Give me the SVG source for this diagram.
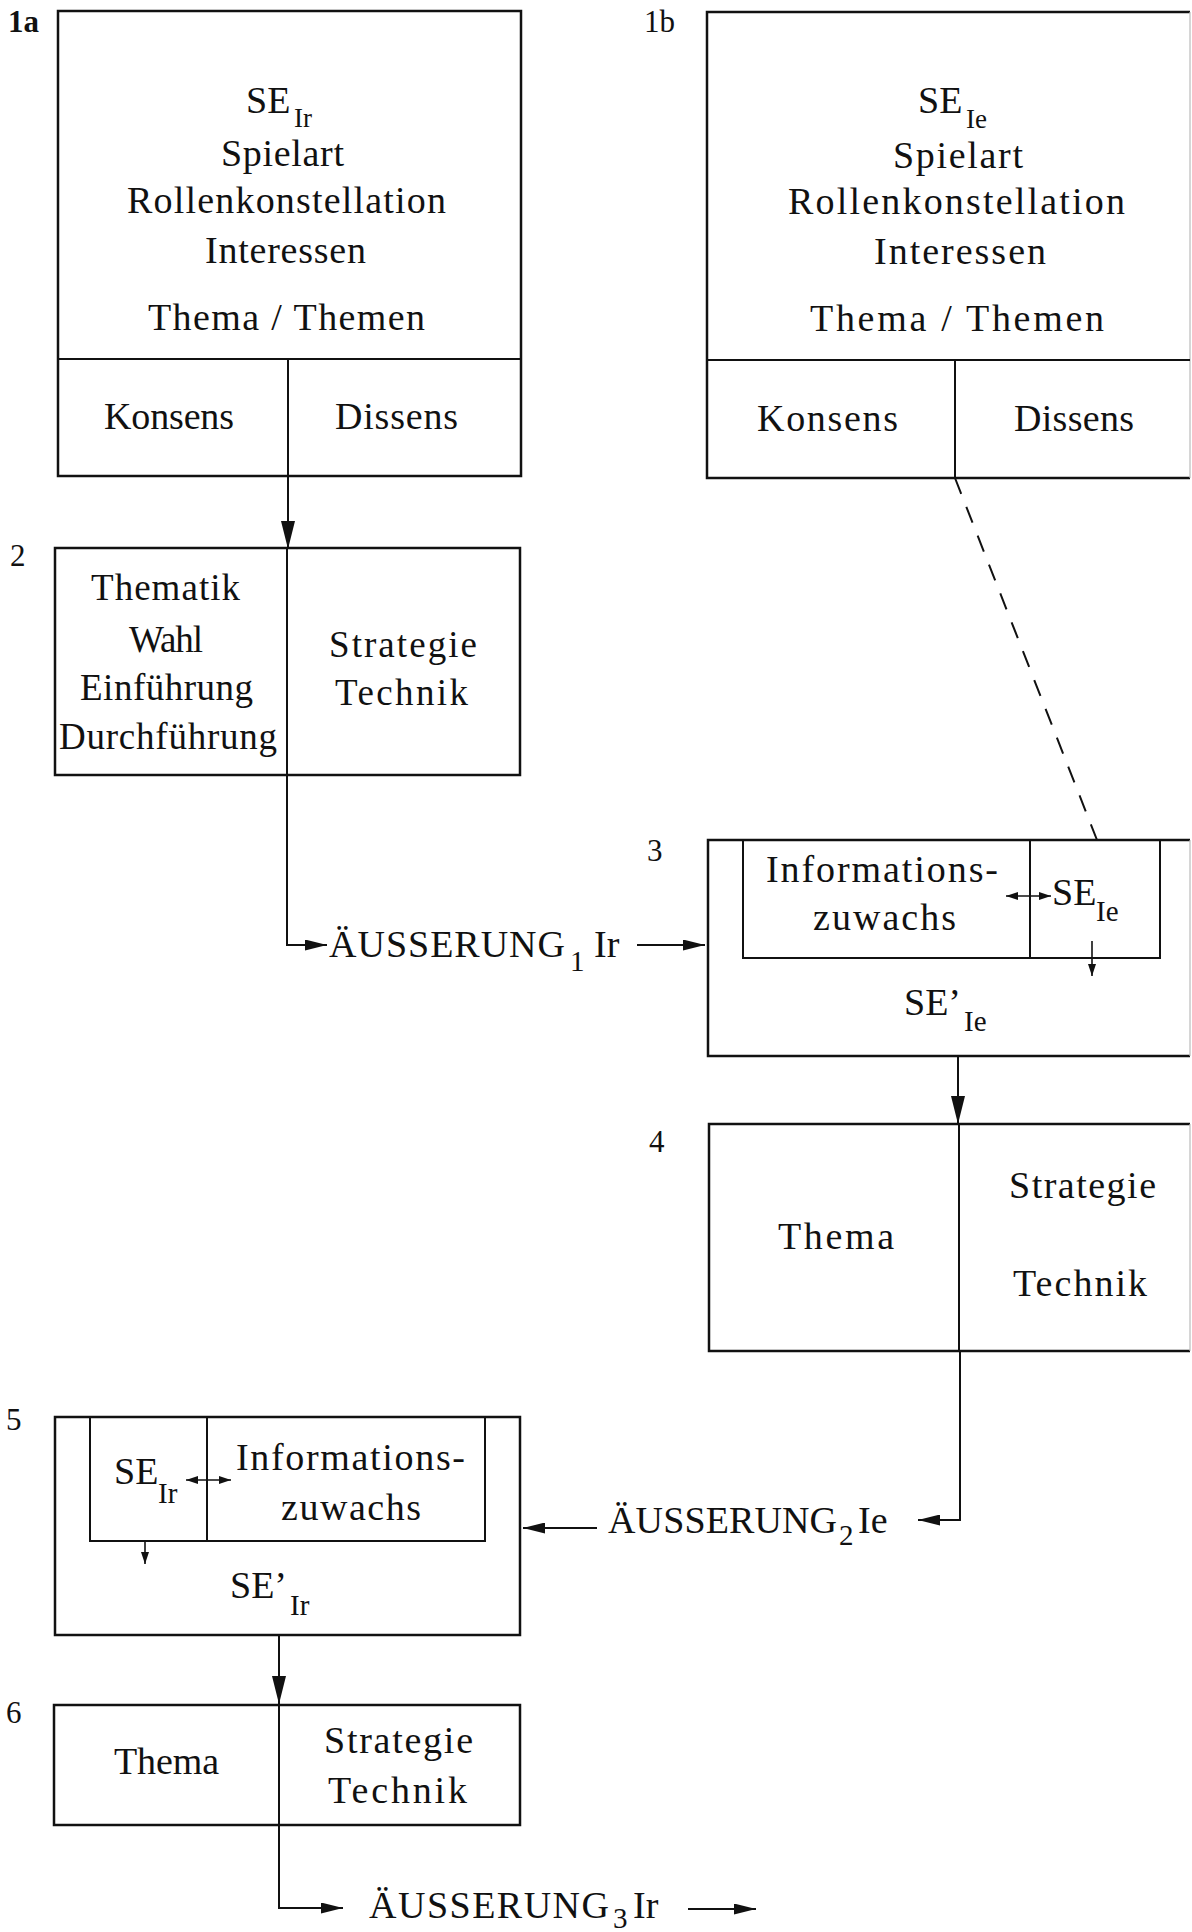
<svg xmlns="http://www.w3.org/2000/svg" width="1192" height="1932" viewBox="0 0 1192 1932">
<style>
  .box{fill:none;stroke:#111;stroke-width:2.5}
  .div{fill:none;stroke:#111;stroke-width:2}
  .edge{fill:none;stroke:#bbb;stroke-width:1.2}
  .con{fill:none;stroke:#111;stroke-width:2}
  .dash{fill:none;stroke:#111;stroke-width:2;stroke-dasharray:17 14}
  text{font-family:"Liberation Serif","Times New Roman",serif;fill:#111}
  .t{font-size:38px}
  .t2{font-size:37px}
  .sub{font-size:29px}
  .sub2{font-size:27px}
  .lab{font-size:31px}
</style>
<defs>
  <marker id="ab" markerUnits="userSpaceOnUse" markerWidth="28" markerHeight="14" refX="28" refY="7" orient="auto"><path d="M0,0 L28,7 L0,14 Z" fill="#111"/></marker>
  <marker id="am" markerUnits="userSpaceOnUse" markerWidth="22" markerHeight="11" refX="22" refY="5.5" orient="auto"><path d="M0,0 L22,5.5 L0,11 Z" fill="#111"/></marker>
  <marker id="as" markerUnits="userSpaceOnUse" markerWidth="12" markerHeight="8" refX="12" refY="4" orient="auto-start-reverse"><path d="M0,0 L12,4 L0,8 Z" fill="#111"/></marker>
</defs>
<rect x="0" y="0" width="1192" height="1932" fill="#fff"/>

<g id="connectors">
  <path class="con" d="M288,476 V549" marker-end="url(#ab)"/>
  <path class="con" d="M287,776 V945 H327" marker-end="url(#am)"/>
  <path class="con" d="M637,945 H705" marker-end="url(#am)"/>
  <path class="dash" d="M955,478 L1097,840"/>
  <path class="con" d="M958,1056 V1124" marker-end="url(#ab)"/>
  <path class="con" d="M960,1351 V1520 H918" marker-end="url(#am)"/>
  <path class="con" d="M597,1528 H523" marker-end="url(#am)"/>
  <path class="con" d="M279,1635 V1704" marker-end="url(#ab)"/>
  <path class="con" d="M279,1825 V1908 H343" marker-end="url(#am)"/>
  <path class="con" d="M688,1909 H756" marker-end="url(#am)"/>
  <path class="con" d="M1006,896 H1051" style="stroke-width:1.6" marker-start="url(#as)" marker-end="url(#as)"/>
  <path class="con" d="M1092,941 V976" style="stroke-width:1.6" marker-end="url(#as)"/>
  <path class="con" d="M186,1480 H231" style="stroke-width:1.6" marker-start="url(#as)" marker-end="url(#as)"/>
  <path class="con" d="M145,1541 V1564" style="stroke-width:1.6" marker-end="url(#as)"/>
</g>

<g id="node-1a">
  <rect class="box" x="58" y="11" width="463" height="465"/>
  <line class="div" x1="58" y1="359" x2="521" y2="359"/>
  <line class="div" x1="288" y1="359" x2="288" y2="476"/>
  <text class="lab" x="8" y="32" font-weight="bold">1a</text>
  <text class="t" x="246" y="113">SE</text>
  <text class="sub2" x="294" y="127">Ir</text>
  <text class="t" x="221" y="166" textLength="123">Spielart</text>
  <text class="t" x="127" y="213" textLength="319">Rollenkonstellation</text>
  <text class="t" x="205" y="263" textLength="161">Interessen</text>
  <text class="t" x="148" y="330" textLength="277">Thema / Themen</text>
  <text class="t" x="104" y="429" textLength="130">Konsens</text>
  <text class="t" x="335" y="429" textLength="123">Dissens</text>
</g>

<g id="node-1b">
  <path class="box" d="M1190,12 H707 V478 H1190"/>
  <line class="edge" x1="1190" y1="12" x2="1190" y2="478"/>
  <line class="div" x1="707" y1="360" x2="1190" y2="360"/>
  <line class="div" x1="955" y1="360" x2="955" y2="478"/>
  <text class="lab" x="644" y="32">1b</text>
  <text class="t" x="918" y="113">SE</text>
  <text class="sub2" x="966" y="128">Ie</text>
  <text class="t" x="893" y="168" textLength="130">Spielart</text>
  <text class="t" x="788" y="214" textLength="337">Rollenkonstellation</text>
  <text class="t" x="874" y="264" textLength="172">Interessen</text>
  <text class="t" x="810" y="331" textLength="294">Thema / Themen</text>
  <text class="t" x="757" y="431" textLength="141">Konsens</text>
  <text class="t" x="1014" y="431" textLength="120">Dissens</text>
</g>

<g id="node-2">
  <rect class="box" x="55" y="548" width="465" height="227"/>
  <line class="div" x1="287" y1="548" x2="287" y2="775"/>
  <text class="lab" x="10" y="566">2</text>
  <text class="t2" x="91" y="600" textLength="149">Thematik</text>
  <text class="t2" x="129" y="652" textLength="74">Wahl</text>
  <text class="t2" x="80" y="700" textLength="173">Einführung</text>
  <text class="t2" x="59" y="749" textLength="218">Durchführung</text>
  <text class="t2" x="329" y="657" textLength="148">Strategie</text>
  <text class="t2" x="335" y="705" textLength="133">Technik</text>
</g>

<g id="label-1">
  <text class="t" x="329" y="957" textLength="236">ÄUSSERUNG</text>
  <text class="sub" x="570" y="971">1</text>
  <text class="t" x="594" y="957">Ir</text>
</g>

<g id="node-3">
  <path class="box" d="M1190,840 H708 V1056 H1190"/>
  <line class="edge" x1="1190" y1="840" x2="1190" y2="1056"/>
  <rect class="div" x="743" y="840" width="417" height="118"/>
  <line class="div" x1="1030" y1="840" x2="1030" y2="958"/>
  <text class="lab" x="647" y="861">3</text>
  <text class="t" x="766" y="882" textLength="232">Informations-</text>
  <text class="t" x="813" y="930" textLength="143">zuwachs</text>
  <text class="t" x="1052" y="905">SE</text>
  <text class="sub" x="1096" y="921">Ie</text>
  <text class="t" x="904" y="1015">SE’</text>
  <text class="sub" x="964" y="1031">Ie</text>
</g>

<g id="node-4">
  <path class="box" d="M1190,1124 H709 V1351 H1190"/>
  <line class="edge" x1="1190" y1="1124" x2="1190" y2="1351"/>
  <line class="div" x1="959" y1="1124" x2="959" y2="1351"/>
  <text class="lab" x="649" y="1152">4</text>
  <text class="t" x="778" y="1249" textLength="116">Thema</text>
  <text class="t" x="1009" y="1198" textLength="147">Strategie</text>
  <text class="t" x="1013" y="1296" textLength="134">Technik</text>
</g>

<g id="label-2">
  <text class="t" x="608" y="1533" textLength="229">ÄUSSERUNG</text>
  <text class="sub" x="839" y="1545">2</text>
  <text class="t" x="858" y="1533">Ie</text>
</g>

<g id="node-5">
  <rect class="box" x="55" y="1417" width="465" height="218"/>
  <rect class="div" x="90" y="1417" width="395" height="124"/>
  <line class="div" x1="207" y1="1417" x2="207" y2="1541"/>
  <text class="lab" x="6" y="1430">5</text>
  <text class="t" x="114" y="1484">SE</text>
  <text class="sub" x="158" y="1503">Ir</text>
  <text class="t" x="236" y="1470" textLength="229">Informations-</text>
  <text class="t" x="281" y="1520" textLength="140">zuwachs</text>
  <text class="t" x="230" y="1598">SE’</text>
  <text class="sub" x="290" y="1615">Ir</text>
</g>

<g id="node-6">
  <rect class="box" x="54" y="1705" width="466" height="120"/>
  <line class="div" x1="279" y1="1705" x2="279" y2="1825"/>
  <text class="lab" x="6" y="1723">6</text>
  <text class="t" x="114" y="1774" textLength="105">Thema</text>
  <text class="t" x="324" y="1753" textLength="149">Strategie</text>
  <text class="t" x="328" y="1803" textLength="139">Technik</text>
</g>

<g id="label-3">
  <text class="t" x="369" y="1918" textLength="240">ÄUSSERUNG</text>
  <text class="sub" x="613" y="1928">3</text>
  <text class="t" x="633" y="1918">Ir</text>
</g>
</svg>
